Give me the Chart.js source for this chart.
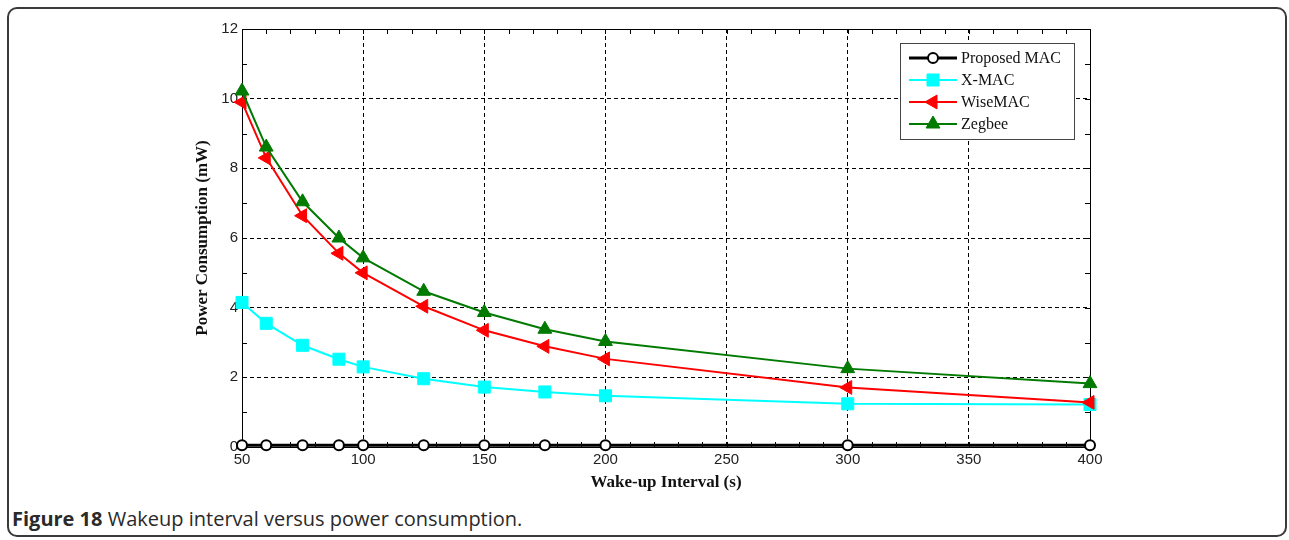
<!DOCTYPE html>
<html>
<head>
<meta charset="utf-8">
<script src="https://cdn.jsdelivr.net/npm/chart.js@4/dist/chart.umd.min.js"></script>
<style>
  html, body { margin: 0; padding: 0; background: #fff; }
  #frame {
    position: absolute; left: 7px; top: 7px; width: 1280px; height: 530px;
    border: 2px solid #3a3a3a; border-radius: 10px; box-sizing: border-box;
  }
  #wrap { position: absolute; left: 0; top: 0; width: 1289px; height: 500px; }
  #caption {
    position: absolute; left: 12px; top: 505px;
    font-family: "Open Sans", sans-serif; font-size: 20px; color: #2a2a2a;
  }
  #caption b { font-weight: 700; }
</style>
</head>
<body>
<div id="frame"></div>
<div id="wrap"><canvas id="myChart"></canvas></div>
<div id="caption"><b>Figure 18</b> Wakeup interval versus power consumption.</div>

<script>
// datos
const intervals = [50, 60, 75, 90, 100, 125, 150, 175, 200, 300, 400];
const proposedMac = [0.05, 0.05, 0.05, 0.05, 0.05, 0.05, 0.05, 0.05, 0.05, 0.05, 0.05];
const xMac = [4.15, 3.55, 2.92, 2.52, 2.30, 1.96, 1.72, 1.58, 1.47, 1.24, 1.22];
const wiseMac = [9.90, 8.30, 6.64, 5.56, 5.00, 4.04, 3.35, 2.89, 2.53, 1.71, 1.28];
const zegbee = [10.22, 8.61, 7.04, 6.00, 5.43, 4.47, 3.86, 3.38, 3.03, 2.25, 1.82];
const seriesNames = ['Proposed MAC', 'X-MAC', 'WiseMAC', 'Zegbee'];
const xTitle = 'Wake-up Interval (s)';
const yTitle = 'Power Consumption (mW)';

function toPoints(values) {
  return intervals.map((x, i) => ({ x: x, y: values[i] }));
}

// marco, ticks menores hacia adentro
const frameTicks = {
  id: 'frameTicks',
  beforeDatasetsDraw(chart) {
    const ctx = chart.ctx;
    const a = chart.chartArea;
    const xs = chart.scales.x;
    const ys = chart.scales.y;
    const len = 5;
    ctx.save();
    ctx.strokeStyle = '#000';
    ctx.lineWidth = 1;
    ctx.beginPath();
    for (let v = 50; v <= 400; v += 10) {
      const px = Math.round(xs.getPixelForValue(v)) + 0.5;
      ctx.moveTo(px, a.bottom); ctx.lineTo(px, a.bottom - len);
      ctx.moveTo(px, a.top); ctx.lineTo(px, a.top + len);
    }
    for (let v = 0; v <= 12; v += 1) {
      const py = Math.round(ys.getPixelForValue(v)) + 0.5;
      ctx.moveTo(a.left, py); ctx.lineTo(a.left + len, py);
      ctx.moveTo(a.right, py); ctx.lineTo(a.right - len, py);
    }
    ctx.stroke();
    ctx.strokeRect(Math.round(a.left) + 0.5, Math.round(a.top) + 0.5,
      Math.round(a.right - a.left), Math.round(a.bottom - a.top));
    ctx.restore();
  }
};

// leyenda dentro del grafico, con linea y marcador
const boxLegend = {
  id: 'boxLegend',
  afterDraw(chart) {
    const ctx = chart.ctx;
    const a = chart.chartArea;
    const left = a.right - 190;
    const top = a.top + 14;
    const w = 174, h = 96;
    ctx.save();
    ctx.fillStyle = '#fff';
    ctx.fillRect(left, top, w, h);
    ctx.strokeStyle = '#444';
    ctx.lineWidth = 1;
    ctx.strokeRect(left + 0.5, top + 0.5, w, h);
    ctx.font = '16px "Liberation Serif", serif';
    ctx.textBaseline = 'middle';
    chart.data.datasets.forEach((ds, i) => {
      const y = top + 15 + i * 22;
      ctx.strokeStyle = ds.borderColor;
      ctx.lineWidth = ds.borderWidth;
      ctx.beginPath();
      ctx.moveTo(left + 9, y);
      ctx.lineTo(left + 57, y);
      ctx.stroke();
      ctx.fillStyle = ds.pointBackgroundColor;
      ctx.strokeStyle = ds.pointBorderColor;
      ctx.lineWidth = ds.pointBorderWidth;
      Chart.helpers.drawPoint(ctx, {
        pointStyle: ds.pointStyle,
        radius: ds.pointRadius,
        rotation: ds.pointRotation || 0,
        borderWidth: ds.pointBorderWidth
      }, left + 33, y);
      ctx.fillStyle = '#111';
      ctx.fillText(ds.label, left + 61, y + 1);
    });
    ctx.restore();
  }
};

const ctx = document.getElementById('myChart').getContext('2d');

new Chart(ctx, {
  type: 'line',
  data: {
    datasets: [
      {
        label: seriesNames[0],
        data: toPoints(proposedMac),
        borderColor: '#000',
        borderWidth: 3,
        pointStyle: 'circle',
        pointRadius: 5,
        pointBackgroundColor: '#fff',
        pointBorderColor: '#000',
        pointBorderWidth: 2,
        order: 3
      },
      {
        label: seriesNames[1],
        data: toPoints(xMac),
        borderColor: '#00ffff',
        borderWidth: 2,
        pointStyle: 'rect',
        pointRadius: 8.5,
        pointBackgroundColor: '#00ffff',
        pointBorderColor: '#00ffff',
        pointBorderWidth: 1,
        order: 2
      },
      {
        label: seriesNames[2],
        data: toPoints(wiseMac),
        borderColor: '#ff0000',
        borderWidth: 2,
        pointStyle: 'triangle',
        pointRotation: -90,
        pointRadius: 8,
        pointBackgroundColor: '#ff0000',
        pointBorderColor: '#ff0000',
        pointBorderWidth: 1,
        order: 1
      },
      {
        label: seriesNames[3],
        data: toPoints(zegbee),
        borderColor: '#007a00',
        borderWidth: 2,
        pointStyle: 'triangle',
        pointRadius: 8,
        pointBackgroundColor: '#007a00',
        pointBorderColor: '#007a00',
        pointBorderWidth: 1,
        order: 0
      }
    ]
  },
  options: {
    responsive: true,
    maintainAspectRatio: false,
    animation: false,
    clip: false,
    layout: { padding: { left: 190, right: 199, top: 29, bottom: 0 } },
    plugins: {
      legend: { display: false },
      tooltip: { enabled: false }
    },
    scales: {
      x: {
        type: 'linear',
        min: 50,
        max: 400,
        afterFit(scale) { scale.height = 53; },
        ticks: {
          stepSize: 50,
          padding: 4,
          color: '#222',
          font: { family: '"Liberation Sans", Arial, sans-serif', size: 15 }
        },
        grid: { color: '#000', lineWidth: 1, drawTicks: false },
        border: { display: true, color: '#000', width: 1, dash: [4, 3] },
        title: {
          display: true,
          text: xTitle,
          color: '#111',
          padding: { top: 0, bottom: 7 },
          font: { family: '"Liberation Serif", serif', size: 17, weight: 'bold' }
        }
      },
      y: {
        min: 0,
        max: 12,
        afterFit(scale) { scale.width = 52; },
        ticks: {
          stepSize: 2,
          padding: 4,
          color: '#222',
          font: { family: '"Liberation Sans", Arial, sans-serif', size: 15 }
        },
        grid: { color: '#000', lineWidth: 1, drawTicks: false },
        border: { display: true, color: '#000', width: 1, dash: [4, 3] },
        title: {
          display: true,
          text: yTitle,
          color: '#111',
          padding: { top: 2, bottom: 0 },
          font: { family: '"Liberation Serif", serif', size: 17, weight: 'bold' }
        }
      }
    }
  },
  plugins: [frameTicks, boxLegend]
});
</script>
</body>
</html>
